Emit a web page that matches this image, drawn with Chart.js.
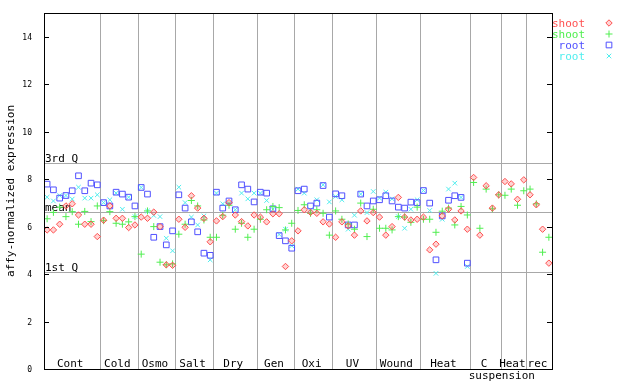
<!DOCTYPE html>
<html><head><meta charset="utf-8">
<script src="https://cdn.jsdelivr.net/npm/chart.js@4.4.0/dist/chart.umd.min.js"></script>
<style>html,body{margin:0;padding:0;background:#fff;}</style>
</head><body>
<canvas id="c" width="640" height="384"></canvas>
<script>
const groupLabels = ["Cont","Cold","Osmo","Salt","Dry","Gen","Oxi","UV","Wound","Heat","C","Heat","rec"];
const groupBounds = [0,9,15,21,27,34,40,46,53,60,68,73,77,81];
const subLabel = "suspension";
const yTicks = [0,2,4,6,8,10,12,14];
const refLines = [8.67, 6.61, 4.08];
const refLabels = ["3rd Q","mean","1st Q"];
const seriesNames = ["shoot","shoot","root","root"];

const shoot1 = [5.86,5.86,6.10,6.87,6.96,6.49,6.10,6.10,5.58,
 6.27,6.87,6.35,6.35,5.96,6.07,
 6.40,6.35,6.61,6.00,4.39,4.37,
 6.31,5.97,7.30,6.78,6.35,5.36,
 6.24,6.42,7.01,6.49,6.21,6.03,6.49,
 6.40,6.20,6.54,6.54,4.32,5.40,
 5.82,6.71,6.60,6.56,6.20,6.11,
 5.55,6.20,6.03,5.64,6.66,6.24,6.59,
 6.40,5.64,6.00,7.23,6.40,6.28,6.31,
 6.40,5.02,5.26,6.45,6.73,6.28,6.66,5.89,
 8.07,5.64,7.72,6.78,7.34,
 7.90,7.80,7.15,7.97,
 7.34,6.92,5.89,4.46];
const shoot2 = [6.33,6.60,6.82,6.42,6.63,6.10,6.64,6.21,6.87,
 6.25,6.63,6.14,6.10,6.20,6.42,
 4.84,6.66,6.00,4.50,4.39,4.43,
 5.68,6.10,7.10,6.87,6.28,5.55,
 5.55,6.48,6.90,5.89,6.14,5.55,5.89,
 6.31,6.71,6.85,6.80,5.86,6.14,
 6.68,6.92,6.56,6.71,6.56,5.64,
 6.66,6.31,6.11,5.89,6.99,5.58,6.73,
 5.93,5.93,5.86,6.42,6.40,6.18,6.82,
 6.31,6.31,5.76,6.65,6.78,6.07,6.85,6.49,
 7.86,5.93,7.58,6.75,7.34,
 7.32,7.58,6.90,7.51,
 7.58,6.96,4.92,5.55];
const root1 = [7.79,7.55,7.20,7.31,7.51,8.14,7.51,7.83,7.76,
 7.01,6.87,7.45,7.37,7.24,6.87,
 7.65,7.37,5.55,6.00,5.23,5.82,
 7.34,6.78,6.20,5.78,4.88,4.79,
 7.45,6.78,7.08,6.71,7.76,7.58,7.04,
 7.45,7.41,6.75,5.62,5.40,5.09,
 7.51,7.58,6.87,6.99,7.73,6.40,
 7.38,7.30,6.07,6.07,7.37,6.87,7.08,
 7.13,7.30,7.08,6.82,6.78,7.03,7.01,
 7.52,6.99,4.60,6.45,7.11,7.30,7.23,4.46,
 null,null,null,null,null,null,null,null,null,null,null,null,null];
const root2 = [7.24,7.08,7.31,7.31,7.16,7.66,7.20,7.20,7.34,
 7.01,7.13,7.41,6.73,7.24,6.42,
 7.65,6.66,6.47,6.42,5.51,4.98,
 7.66,7.01,6.40,6.07,6.45,4.60,
 7.41,6.96,6.96,6.71,7.41,7.17,7.41,
 7.41,7.10,6.73,5.67,5.89,5.19,
 7.58,7.41,6.71,7.13,7.76,7.04,
 7.27,7.13,5.89,6.48,7.37,6.59,7.48,
 7.20,7.45,7.17,6.42,5.93,6.73,7.13,
 7.52,6.68,4.03,6.31,7.58,7.83,7.23,4.32,
 null,null,null,null,null,null,null,null,null,null,null,null,null];

const colors = ['#ff5050','#50ee50','#5050ff','#50eeee'];
const styles = ['rectRot','cross','rect','crossRot'];
const radii = [3.2,3.5,4,3.2];
const fills = ['rgba(255,80,80,0.25)','rgba(0,0,0,0)','rgba(0,0,0,0)','rgba(0,0,0,0)'];

function toPts(arr){ return arr.map((v,i)=> v==null?null:{x:i+0.5,y:v}).filter(p=>p); }

const MONO = '"DejaVu Sans Mono", "Liberation Mono", monospace';

const deco = {
  id:'deco',
  beforeDraw(chart){
    const c = chart.ctx; c.save(); c.fillStyle='#fff'; c.fillRect(0,0,chart.width,chart.height); c.restore();
  },
  beforeDatasetsDraw(chart){
    const c = chart.ctx, a = chart.chartArea, ys = chart.scales.y;
    c.save();
    c.strokeStyle = '#a8a8a8'; c.lineWidth = 1;
    refLines.forEach((v,k)=>{
      const py = Math.round(ys.getPixelForValue(v)) + 0.5;
      c.beginPath(); c.moveTo(a.left, py); c.lineTo(a.right, py); c.stroke();
      c.fillStyle = '#000'; c.font = '11px ' + MONO; c.textAlign='left'; c.textBaseline='alphabetic';
      c.fillText(refLabels[k], a.left + 1, py - 1.5);
    });
    c.restore();
  },
  afterDatasetsDraw(chart){
    const c = chart.ctx, a = chart.chartArea, ys = chart.scales.y, xs = chart.scales.x;
    c.save();
    c.strokeStyle = '#000'; c.lineWidth = 1;
    c.strokeRect(Math.round(a.left)+0.5, Math.round(a.top)+0.5, Math.round(a.right-a.left), Math.round(a.bottom-a.top));
    c.font = '8px ' + MONO; c.fillStyle = '#000'; c.textAlign = 'right'; c.textBaseline = 'middle';
    yTicks.forEach(t=>{
      const py = Math.round(ys.getPixelForValue(t)) + 0.5;
      c.beginPath(); c.moveTo(a.left, py); c.lineTo(a.left+5, py); c.stroke();
      c.beginPath(); c.moveTo(a.right-5, py); c.lineTo(a.right, py); c.stroke();
      c.fillText(String(t), a.left - 12, py);
    });
    c.font = '11px ' + MONO; c.textAlign='center'; c.textBaseline='alphabetic';
    groupLabels.forEach((lab,k)=>{
      const cx = xs.getPixelForValue((groupBounds[k]+groupBounds[k+1])/2) - 2;
      c.fillText(lab, cx, a.bottom - 2);
    });
    c.fillText(subLabel, xs.getPixelForValue(groupBounds[11]), a.bottom + 10);
    c.save();
    c.translate(11.5, (a.top+a.bottom)/2); c.rotate(-Math.PI/2);
    c.textBaseline='middle'; c.fillText('affy-normalized expression', 0, 0);
    c.restore();
    // legend
    c.textAlign='right'; c.textBaseline='alphabetic';
    seriesNames.forEach((n,k)=>{
      const by = 26.5 + 11*k;
      c.fillStyle = colors[k];
      c.fillText(n, 585, by);
      c.save();
      c.strokeStyle = colors[k]; c.fillStyle = fills[k]; c.lineWidth = 1;
      Chart.helpers.drawPoint(c, {pointStyle: styles[k], radius: radii[k], borderWidth:1}, 609, by-3.5);
      c.restore();
    });
    c.restore();
  }
};

new Chart(document.getElementById('c'), {
  type:'scatter',
  data:{ datasets:[shoot1,shoot2,root1,root2].map((arr,k)=>({
    label: seriesNames[k],
    data: toPts(arr),
    pointStyle: styles[k], pointRadius: radii[k], pointBorderWidth:1,
    borderColor: colors[k], backgroundColor: fills[k], pointBackgroundColor: fills[k], pointBorderColor: colors[k],
    showLine:false
  }))},
  options:{
    responsive:false, animation:false, devicePixelRatio:1,
    layout:{padding:{left:44, right:88, top:13, bottom:15}},
    plugins:{legend:{display:false}, tooltip:{enabled:false}},
    scales:{
      x:{type:'linear', min:0, max:81,
         afterBuildTicks(s){ s.ticks = groupBounds.map(v=>({value:v})); },
         afterFit(s){ s.height = 0; },
         ticks:{display:false},
         grid:{drawTicks:false, lineWidth:1, color:(ctx)=> (ctx.tick && (ctx.tick.value===0 || ctx.tick.value===81)) ? 'rgba(0,0,0,0)' : '#a8a8a8'},
         border:{display:false}},
      y:{type:'linear', min:0, max:15,
         afterFit(s){ s.width = 0; },
         ticks:{display:false},
         grid:{display:false, drawTicks:false},
         border:{display:false}}
    }
  },
  plugins:[deco]
});
</script>
</body></html>
